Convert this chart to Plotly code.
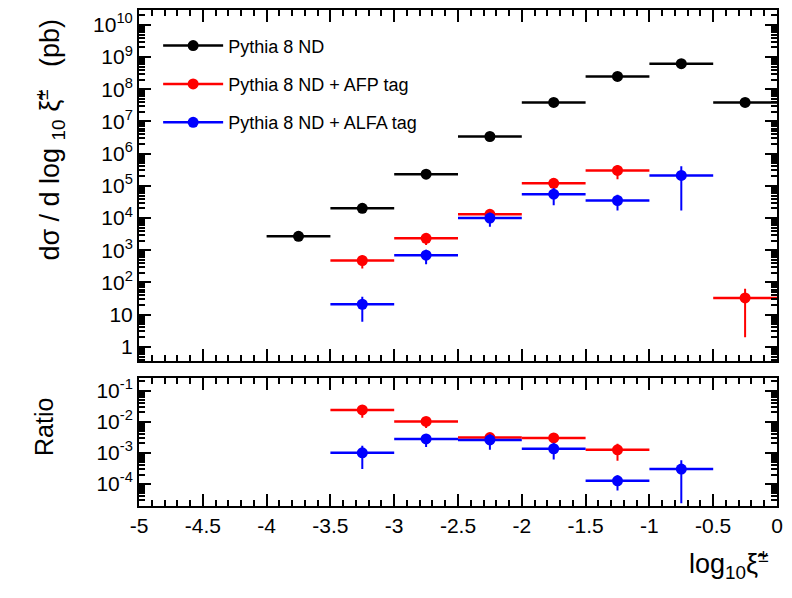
import plotly.graph_objects as go

# ---- data ----
bin_half = 0.25
x_nd = [-3.75, -3.25, -2.75, -2.25, -1.75, -1.25, -0.75, -0.25]
y_nd = [2.7e3, 2.0e4, 2.3e5, 3.4e6, 3.9e7, 2.5e8, 6.2e8, 3.9e7]

x_afp = [-3.25, -2.75, -2.25, -1.75, -1.25, -0.25]
y_afp = [480, 2350, 1.3e4, 1.2e5, 3.0e5, 33]
e_afp = [210, 900, 3900, 3.6e4, 1.4e5, 31]

x_alfa = [-3.25, -2.75, -2.25, -1.75, -1.25, -0.75]
y_alfa = [21, 700, 1.0e4, 5.5e4, 3.5e4, 2.1e5]
e_alfa = [15, 330, 4600, 3.0e4, 1.8e4, 1.93e5]

xr_afp = [-3.25, -2.75, -2.25, -1.75, -1.25]
r_afp = [0.024, 0.0102, 0.0031, 0.0030, 0.00125]
er_afp = [0.0105, 0.0039, 0.0009, 0.0009, 0.00069]

xr_alfa = [-3.25, -2.75, -2.25, -1.75, -1.25, -0.75]
r_alfa = [1.0e-3, 2.8e-3, 2.6e-3, 1.35e-3, 1.26e-4, 3.0e-4]
er_alfa = [0.0007, 0.00126, 0.00135, 0.00074, 0.000065, 0.000276]

x_ticks = [-5, -4.5, -4, -3.5, -3, -2.5, -2, -1.5, -1, -0.5, 0]
x_ticktext = ["-5", "-4.5", "-4", "-3.5", "-3", "-2.5", "-2", "-1.5", "-1", "-0.5", "0"]
y_ticks = [1, 10, 1e2, 1e3, 1e4, 1e5, 1e6, 1e7, 1e8, 1e9, 1e10]
y_ticktext = ["1", "10"] + ["10<sup>%d</sup>" % k for k in range(2, 11)]
r_ticks = [1e-4, 1e-3, 1e-2, 1e-1]
r_ticktext = ["10<sup>-4</sup>", "10<sup>-3</sup>", "10<sup>-2</sup>", "10<sup>-1</sup>"]

names = ["Pythia 8 ND", "Pythia 8 ND + AFP tag", "Pythia 8 ND + ALFA tag"]
colors = ["#000000", "#ff0000", "#0000ff"]

FONT = "Liberation Sans, Arial, Helvetica, sans-serif"

fig = go.Figure()


def add(x, y, e, color, name, yaxis, show):
    ey = dict(type="data", array=e, visible=True, color=color, thickness=2, width=0) if e is not None else dict(visible=False)
    fig.add_trace(go.Scatter(
        x=x, y=y, mode="markers", name=name, legendgroup=name, showlegend=show,
        marker=dict(color=color, size=11, symbol="circle"),
        error_x=dict(type="constant", value=bin_half, color=color, thickness=2.5, width=0),
        error_y=ey,
        xaxis="x" if yaxis == "y" else "x2", yaxis=yaxis,
    ))


add(x_nd, y_nd, None, colors[0], names[0], "y", False)
add(x_afp, y_afp, e_afp, colors[1], names[1], "y", False)
add(x_alfa, y_alfa, e_alfa, colors[2], names[2], "y", False)
add(xr_afp, r_afp, er_afp, colors[1], names[1], "y2", False)
add(xr_alfa, r_alfa, er_alfa, colors[2], names[2], "y2", False)

# legend entries (line + marker)
for n, c in zip(names, colors):
    fig.add_trace(go.Scatter(x=[None], y=[None], mode="lines+markers", name=n, legendgroup=n,
                             line=dict(color=c, width=2.5), marker=dict(color=c, size=11),
                             xaxis="x", yaxis="y"))

axcommon = dict(showline=True, linecolor="black", linewidth=2, mirror="allticks",
                ticks="inside", tickcolor="black", tickwidth=1.5, showgrid=False, zeroline=False,
                tickfont=dict(family=FONT, size=21, color="black"))

fig.update_layout(
    width=792, height=598,
    margin=dict(l=139, r=15, t=8, b=92),
    paper_bgcolor="white", plot_bgcolor="white",
    font=dict(family=FONT, color="black"),
    showlegend=True,
    legend=dict(x=0.03, y=0.965, xanchor="left", yanchor="top", bgcolor="rgba(0,0,0,0)",
                font=dict(family=FONT, size=18, color="black"), tracegroupgap=12,
                itemwidth=60),
    xaxis=dict(domain=[0, 1], range=[-5, 0], anchor="y", tickvals=x_ticks, showticklabels=False,
               ticklen=12, minor=dict(ticks="inside", dtick=0.1, ticklen=6, tickcolor="black", tickwidth=1.5),
               **axcommon),
    xaxis2=dict(domain=[0, 1], range=[-5, 0], anchor="y2", tickvals=x_ticks, ticktext=x_ticktext,
                ticklen=12, minor=dict(ticks="inside", dtick=0.1, ticklen=6, tickcolor="black", tickwidth=1.5),
                **axcommon),
    yaxis=dict(domain=[0.293, 1], type="log", range=[-0.43, 10.46], anchor="x",
               tickvals=y_ticks, ticktext=y_ticktext, ticklen=12,
               minor=dict(ticks="inside", dtick="D1", ticklen=6, tickcolor="black", tickwidth=1.5),
               **axcommon),
    yaxis2=dict(domain=[0, 0.259], type="log", range=[-4.71, -0.58], anchor="x2",
                tickvals=r_ticks, ticktext=r_ticktext, ticklen=12,
                minor=dict(ticks="inside", dtick="D1", ticklen=6, tickcolor="black", tickwidth=1.5),
                **axcommon),
)

fig.add_annotation(text="dσ / d log <sub>10</sub> ξ̃<sup>±</sup>   (pb)", textangle=-90,
                   xref="paper", yref="paper", x=-0.14, y=0.986, xanchor="center", yanchor="top",
                   showarrow=False, font=dict(family=FONT, size=27, color="black"))
fig.add_annotation(text="Ratio", textangle=-90,
                   xref="paper", yref="paper", x=-0.15, y=0.16, xanchor="center", yanchor="middle",
                   showarrow=False, font=dict(family=FONT, size=25, color="black"))
fig.add_annotation(text="log<sub>10</sub>ξ̃<sup>±</sup>",
                   xref="paper", yref="paper", x=0.99, y=-0.075, xanchor="right", yanchor="top",
                   showarrow=False, font=dict(family=FONT, size=27, color="black"))

fig.write_html("out.html")
